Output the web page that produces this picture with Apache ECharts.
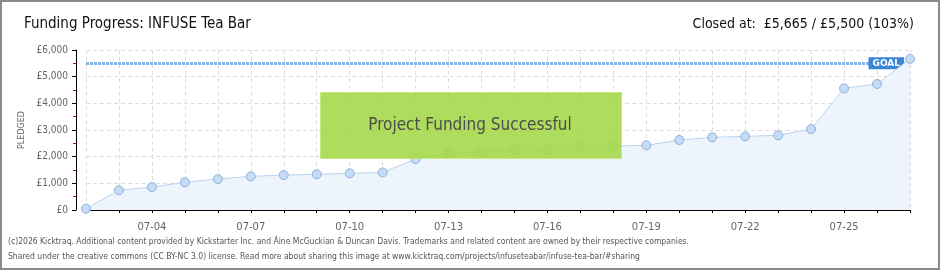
<!DOCTYPE html>
<html><head><meta charset="utf-8">
<script src="https://cdn.jsdelivr.net/npm/echarts@6/dist/echarts.min.js"></script>
<style>
html,body{margin:0;padding:0;background:#fff;}
#wrap{width:940px;height:270px;box-sizing:border-box;border:2px solid #8a8a8a;position:relative;overflow:hidden;}
#chart{position:absolute;left:-2px;top:-2px;width:940px;height:270px;}
</style></head>
<body><div id="wrap"><div id="chart"></div></div>
<script>
const titleText = 'Funding Progress: INFUSE Tea Bar';
const closedText = 'Closed at:  £5,665 / £5,500 (103%)';
const dates = ['07-02','07-03','07-04','07-05','07-06','07-07','07-08','07-09','07-10','07-11','07-12','07-13','07-14','07-15','07-16','07-17','07-18','07-19','07-20','07-21','07-22','07-23','07-24','07-25','07-26','07-27'];
const pledged = [50, 740, 860, 1040, 1160, 1260, 1310, 1340, 1375, 1410, 1910, 2125, 2175, 2270, 2270, 2400, 2400, 2425, 2625, 2725, 2760, 2800, 3035, 4560, 4725, 5665];
const goal = 5500;
const yTicks = [0, 1000, 2000, 3000, 4000, 5000, 6000];
const bannerText = 'Project Funding Successful';
const footer1 = '(c)2026 Kicktraq. Additional content provided by Kickstarter Inc. and Áine McGuckian & Duncan Davis. Trademarks and related content are owned by their respective companies.';
const footer2 = 'Shared under the creative commons (CC BY-NC 3.0) license. Read more about sharing this image at www.kicktraq.com/projects/infuseteabar/infuse-tea-bar/#sharing';

const NARROW = '"DejaVu Sans Condensed",sans-serif';
const chart = echarts.init(document.getElementById('chart'));
const fmt = v => '£' + v.toLocaleString('en-US');
chart.setOption({
  animation: false,
  grid: {left: 86, right: 30, top: 50, bottom: 60, containLabel: false},
  title: [
    {text: titleText, left: 19, top: 12, textStyle: {fontFamily: NARROW, fontSize: 15, fontWeight: 'normal', color: '#111'}},
    {text: closedText, right: 21, top: 12, textStyle: {fontFamily: NARROW, fontSize: 14, fontWeight: 'normal', color: '#111'}}
  ],
  xAxis: {
    type: 'category', data: dates, boundaryGap: false, offset: 10,
    axisLine: {lineStyle: {color: '#000', width: 1}},
    axisTick: {show: true, interval: 0, length: 3, lineStyle: {color: '#000'}},
    axisLabel: {interval: (i) => i % 3 === 2, color: '#666', fontSize: 10, margin: 2, fontFamily: 'DejaVu Sans'},
    splitLine: {show: true, interval: 0, lineStyle: {color: '#dedede', type: [4, 3]}}
  },
  yAxis: {
    type: 'value', min: yTicks[0], max: yTicks[yTicks.length - 1], interval: 1000, offset: 10,
    name: 'PLEDGED', nameLocation: 'middle', nameRotate: 90, nameGap: 50,
    nameTextStyle: {fontSize: 8, color: '#666', fontFamily: 'DejaVu Sans'},
    axisLine: {show: true, lineStyle: {color: '#000', width: 1}},
    axisTick: {show: true, length: 4, lineStyle: {color: '#000'}},
    minorTick: {show: true, splitNumber: 2, length: 3, lineStyle: {color: '#e00000'}},
    axisLabel: {formatter: fmt, color: '#666', fontSize: 10, margin: 8, fontFamily: 'DejaVu Sans Condensed'},
    splitLine: {show: true, lineStyle: {color: '#dedede', type: [4, 3]}}
  },
  series: [{
    type: 'line', data: pledged, z: 3,
    symbol: 'circle', symbolSize: 9,
    itemStyle: {color: '#c4dcf6', borderColor: '#8fb0d6', borderWidth: 1},
    lineStyle: {color: '#b9d5f2', width: 1},
    areaStyle: {color: '#edf4fc', opacity: 1},
    markLine: {
      silent: true, symbol: 'none', z: 2,
      lineStyle: {color: '#86b6e8', width: 3, type: [3, 1]},
      label: {show: true, position: 'insideEnd', formatter: 'GOAL', color: '#fff', backgroundColor: '#3a86d6',
        fontSize: 9, fontWeight: 'bold', padding: [2, 4, 1, 4], distance: 6, fontFamily: 'DejaVu Sans'},
      data: [{yAxis: goal}]
    }
  }],
  graphic: [
    {type: 'rect', left: 320, top: 92, shape: {width: 301, height: 66}, z: 10,
      style: {fill: '#a5d84a', stroke: '#c4e87c', lineWidth: 1, opacity: 0.9}},
    {type: 'text', left: 'center', top: 117, z: 11,
      style: {text: bannerText, fill: '#4d4d4d', font: '17px ' + NARROW,
        textShadowColor: '#e8f7d0', textShadowOffsetX: 1, textShadowOffsetY: 1, textShadowBlur: 0}},
    {type: 'text', left: 8, top: 237, z: 11,
      style: {text: footer1, fill: '#555', font: '8.5px ' + NARROW}},
    {type: 'text', left: 8, top: 252, z: 11,
      style: {text: footer2, fill: '#555', font: '8.5px ' + NARROW}}
  ]
});
</script></body></html>
